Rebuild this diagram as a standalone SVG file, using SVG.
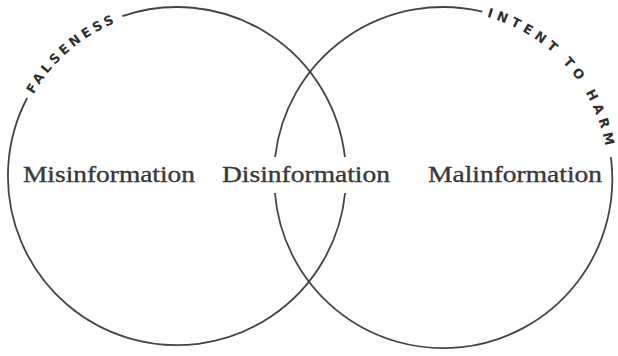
<svg xmlns="http://www.w3.org/2000/svg" xmlns:xlink="http://www.w3.org/1999/xlink" width="618" height="356" viewBox="0 0 618 356">
  <style>
    .ring { fill: none; stroke: #444; stroke-width: 1.8; }
    .label { font-family: "Liberation Serif", "Times New Roman", serif; font-size: 23px; fill: #383838; stroke: #383838; stroke-width: 0.35; }
    .arc { font-family: "DejaVu Sans", "Liberation Sans", sans-serif; font-size: 13px; font-weight: 700; fill: #2e2e2e; }
  </style>
  <defs>
    <path id="arcLeft" d="M17.6,133.3 A165,165 0 0 1 162.6,11.6"/>
    <path id="arcRight" d="M443,11 A165,165 0 0 1 608,176"/>
  </defs>
  <rect width="618" height="356" fill="#fff"/>
  <g id="connectors">
    <path class="ring" d="M122.3,16.1 A169,169 0 0 1 344.9,157"/>
    <path class="ring" d="M345.1,193 A169,169 0 1 1 27.1,98"/>
    <path class="ring" d="M275.1,157 A169,169 0 0 1 482.4,11.7"/>
    <path class="ring" d="M610.9,157.2 A169,169 0 1 1 274.9,193"/>
  </g>
  <g id="falseness">
    <text class="arc" font-size="13" font-weight="700" letter-spacing="3.5"><textPath xlink:href="#arcLeft" href="#arcLeft" startOffset="98.8" text-anchor="middle">FALSENESS</textPath></text>
  </g>
  <g id="intent-to-harm">
    <text class="arc" font-size="13" font-weight="700" letter-spacing="4.5"><textPath xlink:href="#arcRight" href="#arcRight" startOffset="138.8" text-anchor="middle">INTENT TO HARM</textPath></text>
  </g>
  <g id="misinformation">
    <text class="label" x="23" y="182" textLength="172" lengthAdjust="spacingAndGlyphs">Misinformation</text>
  </g>
  <g id="disinformation">
    <text class="label" x="222" y="182" textLength="168" lengthAdjust="spacingAndGlyphs">Disinformation</text>
  </g>
  <g id="malinformation">
    <text class="label" x="428" y="182" textLength="174" lengthAdjust="spacingAndGlyphs">Malinformation</text>
  </g>
</svg>
